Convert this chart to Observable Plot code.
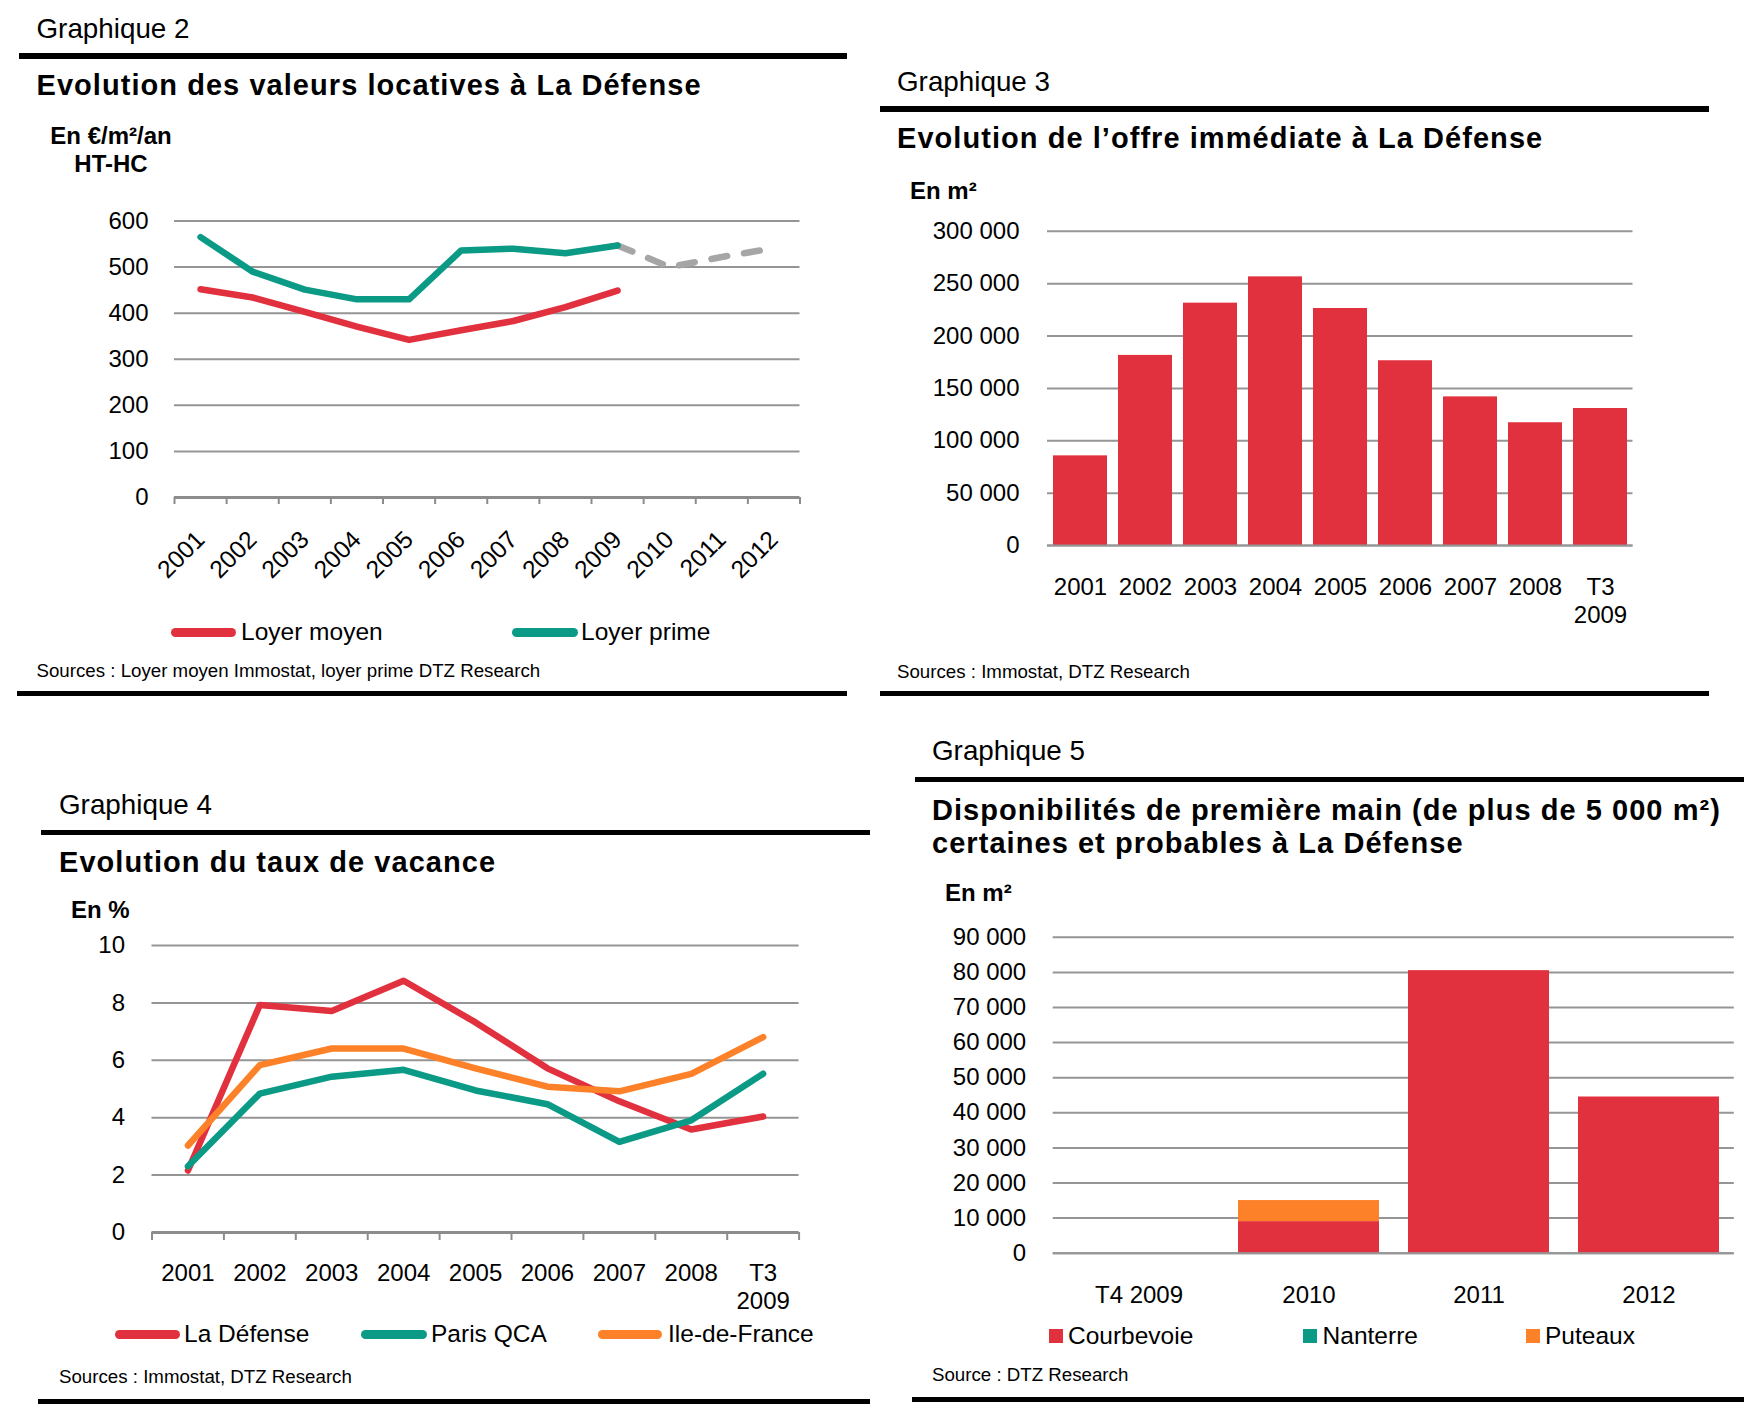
<!DOCTYPE html>
<html>
<head>
<meta charset="utf-8">
<script src="https://cdn.jsdelivr.net/npm/d3@7"></script>
<script src="https://cdn.jsdelivr.net/npm/@observablehq/plot@0.6"></script>
<style>
  html, body { margin: 0; padding: 0; background: #fff; }
  body { width: 1757px; height: 1421px; position: relative; overflow: hidden;
         font-family: "Liberation Sans", Arial, Helvetica, sans-serif; color: #000; }
  .abs { position: absolute; white-space: nowrap; line-height: 1; }
  .rule { position: absolute; background: #000; }
  .chart { position: absolute; }
  .chart svg { overflow: visible; }
  .sw { position: absolute; }
</style>
</head>
<body>
<script>
// ---------------- DATA ----------------
// Graphique 2 : valeurs locatives (€/m²/an HT-HC)
const years2 = [2001, 2002, 2003, 2004, 2005, 2006, 2007, 2008, 2009, 2010, 2011, 2012];
const years2Hist = [2001, 2002, 2003, 2004, 2005, 2006, 2007, 2008, 2009];
const loyerMoyen = [452, 434, 403, 371, 342, 363, 383, 413, 449];
const loyerPrime = [565, 490, 451, 430, 430, 536, 540, 530, 547];
const years2Prev = [2009, 2010, 2011, 2012];
const loyerPrimePrev = [547, 500, 522, 541];
const yTicks2 = [0, 100, 200, 300, 400, 500, 600];

// Graphique 3 : offre immédiate (m²)
const cat3 = ["2001", "2002", "2003", "2004", "2005", "2006", "2007", "2008", "T3\n2009"];
const offre3 = [85600, 181500, 231400, 256500, 226300, 176400, 141900, 117200, 130800];
const yTicks3 = [0, 50000, 100000, 150000, 200000, 250000, 300000];

// Graphique 4 : taux de vacance (%)
const cat4 = ["2001", "2002", "2003", "2004", "2005", "2006", "2007", "2008", "T3\n2009"];
const vacLaDefense = [2.16, 7.93, 7.72, 8.77, 7.32, 5.72, 4.57, 3.59, 4.04];
const vacParisQCA = [2.31, 4.84, 5.43, 5.67, 4.95, 4.47, 3.16, 3.91, 5.53];
const vacIDF = [3.03, 5.83, 6.41, 6.41, 5.72, 5.08, 4.92, 5.53, 6.81];
const yTicks4 = [0, 2, 4, 6, 8, 10];

// Graphique 5 : disponibilités de première main (m²)
const cat5 = ["T4 2009", "2010", "2011", "2012"];
const communes5 = ["Courbevoie", "Nanterre", "Puteaux"];
const courbevoie5 = [0, 9000, 80500, 44500];
const nanterre5 = [0, 0, 0, 0];
const puteaux5 = [0, 6000, 0, 0];
const yTicks5 = [0, 10000, 20000, 30000, 40000, 50000, 60000, 70000, 80000, 90000];

// ---------------- STYLE ----------------
const RED = "#E2313E", TEAL = "#0B9A85", ORANGE = "#FD8128", GREY_DASH = "#A6A6A6";
const GRID = "#959595", AXIS = "#8c8c8c";
const FONT = "'Liberation Sans', Arial, Helvetica, sans-serif";
const frFormat = d3.formatLocale({decimal: ",", thousands: " ", grouping: [3], currency: ["", "€"]}).format(",.0f");

// ---------------- HELPERS ----------------
function txt(s, x, base, size, opts = {}) {
  const d = document.createElement("div");
  d.className = "abs";
  d.textContent = s;
  d.style.fontSize = size + "px";
  d.style.top = (base - 0.8465 * size) + "px";
  d.style.left = x + "px";
  if (opts.bold) d.style.fontWeight = "bold";
  if (opts.center) d.style.transform = "translateX(-50%)";
  if (opts.ls != null) d.style.letterSpacing = opts.ls + "px";
  document.body.appendChild(d);
  return d;
}
function rule(x1, x2, yc, th) {
  const d = document.createElement("div");
  d.className = "rule";
  d.style.left = x1 + "px"; d.style.width = (x2 - x1) + "px";
  d.style.top = (yc - th / 2) + "px"; d.style.height = th + "px";
  document.body.appendChild(d);
}
function lineSwatch(x1, x2, yc, color) {
  const d = document.createElement("div");
  d.className = "sw";
  const th = 9;
  d.style.left = x1 + "px"; d.style.width = (x2 - x1) + "px";
  d.style.top = (yc - th / 2) + "px"; d.style.height = th + "px";
  d.style.borderRadius = (th / 2) + "px";
  d.style.background = color;
  document.body.appendChild(d);
}
function squareSwatch(x, yc, size, color) {
  const d = document.createElement("div");
  d.className = "sw";
  d.style.left = x + "px"; d.style.width = size + "px";
  d.style.top = (yc - size / 2) + "px"; d.style.height = size + "px";
  d.style.background = color;
  document.body.appendChild(d);
}
function place(svg, left, top) {
  const w = document.createElement("div");
  w.className = "chart";
  w.style.left = left + "px"; w.style.top = top + "px";
  w.appendChild(svg);
  document.body.appendChild(w);
}
const baseStyle = {fontFamily: FONT, fontSize: "24px", color: "#000", background: "transparent", overflow: "visible"};
const TITLE_LS = 1.05;

// ================= GRAPHIQUE 2 =================
txt("Graphique 2", 36.5, 39, 27.8);
rule(19, 847, 56, 5.3);
txt("Evolution des valeurs locatives à La Défense", 36.5, 96, 29, {bold: true, ls: TITLE_LS});
txt("En €/m²/an", 111, 144, 24, {bold: true, center: true});
txt("HT-HC", 111, 172, 24, {bold: true, center: true});

const bounds2 = d3.range(2000.5, 2013, 1);
const p2 = Plot.plot({
  width: 840, height: 400,
  marginLeft: 174, marginRight: 40.5, marginTop: 40.5, marginBottom: 83,
  x: {domain: [2000.5, 2012.5]},
  y: {domain: [0, 600]},
  style: baseStyle,
  marks: [
    Plot.gridY({ticks: yTicks2.slice(1), stroke: GRID, strokeOpacity: 1, strokeWidth: 2}),
    Plot.axisY({ticks: yTicks2, tickSize: 0, tickPadding: 26, fontSize: 24, label: null}),
    Plot.axisX({ticks: bounds2, tickSize: 7, tickFormat: () => "", stroke: AXIS, strokeWidth: 2, label: null}),
    Plot.ruleY([0], {stroke: AXIS, strokeWidth: 3}),
    Plot.axisX({ticks: years2, tickSize: 0, tickRotate: -45, tickPadding: 38, fontSize: 24.5, tickFormat: d => String(d), label: null}),
    Plot.line(loyerPrimePrev, {x: years2Prev, y: loyerPrimePrev, stroke: GREY_DASH, strokeWidth: 6.5,
      strokeDasharray: "16,17", strokeLinecap: "round", strokeLinejoin: "round"}),
    Plot.line(loyerMoyen, {x: years2Hist, y: loyerMoyen, stroke: RED, strokeWidth: 6.5, strokeLinejoin: "round", strokeLinecap: "round"}),
    Plot.line(loyerPrime, {x: years2Hist, y: loyerPrime, stroke: TEAL, strokeWidth: 6.5, strokeLinejoin: "round", strokeLinecap: "round"})
  ]
});
place(p2, 0, 180);

lineSwatch(171, 236, 632, RED);
txt("Loyer moyen", 241, 640.6, 24.5);
lineSwatch(512, 578, 632, TEAL);
txt("Loyer prime", 581, 640.6, 24.5);
txt("Sources : Loyer moyen Immostat, loyer prime DTZ Research", 36.5, 677.6, 18.7);
rule(17, 847, 693.5, 5.3);

// ================= GRAPHIQUE 3 =================
txt("Graphique 3", 897, 91.5, 27.8);
rule(880, 1709, 109, 5.3);
txt("Evolution de l’offre immédiate à La Défense", 897, 148.6, 29, {bold: true, ls: TITLE_LS});
txt("En m²", 910, 199.5, 24, {bold: true});

const p3 = Plot.plot({
  width: 860, height: 450,
  marginLeft: 177, marginRight: 97.5, marginTop: 40.8, marginBottom: 95,
  x: {domain: cat3, paddingInner: 0.17, paddingOuter: 0.085},
  y: {domain: [0, 300000]},
  style: baseStyle,
  marks: [
    Plot.gridY({ticks: yTicks3, stroke: GRID, strokeOpacity: 1, strokeWidth: 2}),
    Plot.axisY({ticks: yTicks3, tickSize: 0, tickPadding: 28, fontSize: 24, tickFormat: frFormat, label: null}),
    Plot.barY(offre3, {x: cat3, y: offre3, fill: RED}),
    Plot.ruleY([0], {stroke: GRID, strokeWidth: 2}),
    Plot.axisX({tickSize: 0, tickPadding: 29.5, fontSize: 24, lineHeight: 1.16, label: null})
  ]
});
place(p3, 870, 190);

txt("Sources : Immostat, DTZ Research", 897, 678.5, 18.7);
rule(880, 1709, 693.5, 5.3);

// ================= GRAPHIQUE 4 =================
txt("Graphique 4", 59, 815, 27.8);
rule(41, 870, 832.8, 5);
txt("Evolution du taux de vacance", 59, 872.4, 29, {bold: true, ls: TITLE_LS});
txt("En %", 71, 918.4, 24, {bold: true});

const idx4 = cat4.map((_, i) => i);
const bounds4 = d3.range(-0.5, cat4.length, 1);
const p4 = Plot.plot({
  width: 840, height: 420,
  marginLeft: 151.5, marginRight: 41.4, marginTop: 45, marginBottom: 88,
  x: {domain: [-0.5, cat4.length - 0.5]},
  y: {domain: [0, 10]},
  style: baseStyle,
  marks: [
    Plot.gridY({ticks: yTicks4.slice(1), stroke: GRID, strokeOpacity: 1, strokeWidth: 2}),
    Plot.axisY({ticks: yTicks4, tickSize: 0, tickPadding: 27, fontSize: 24, label: null}),
    Plot.axisX({ticks: bounds4, tickSize: 8, tickFormat: () => "", stroke: AXIS, strokeWidth: 2, label: null}),
    Plot.ruleY([0], {stroke: AXIS, strokeWidth: 3}),
    Plot.axisX({ticks: idx4, tickSize: 0, tickPadding: 28.5, fontSize: 24, lineHeight: 1.16, tickFormat: i => cat4[i], label: null}),
    Plot.line(vacLaDefense, {x: idx4, y: vacLaDefense, stroke: RED, strokeWidth: 6.5, strokeLinejoin: "round", strokeLinecap: "round"}),
    Plot.line(vacParisQCA, {x: idx4, y: vacParisQCA, stroke: TEAL, strokeWidth: 6.5, strokeLinejoin: "round", strokeLinecap: "round"}),
    Plot.line(vacIDF, {x: idx4, y: vacIDF, stroke: ORANGE, strokeWidth: 6.5, strokeLinejoin: "round", strokeLinecap: "round"})
  ]
});
place(p4, 0, 900);

lineSwatch(115, 180, 1334.5, RED);
txt("La Défense", 184, 1343, 24.5);
lineSwatch(361, 426.5, 1334.5, TEAL);
txt("Paris QCA", 431, 1343, 24.5);
lineSwatch(598, 662, 1334.5, ORANGE);
txt("Ile-de-France", 668, 1343, 24.5);
txt("Sources : Immostat, DTZ Research", 59, 1384, 18.7);
rule(38, 870, 1401.2, 5);

// ================= GRAPHIQUE 5 =================
txt("Graphique 5", 932, 761, 27.8);
rule(915, 1744, 779.5, 5);
txt("Disponibilités de première main (de plus de 5 000 m²)", 932, 820.5, 29, {bold: true, ls: TITLE_LS});
txt("certaines et probables à La Défense", 932, 854, 29, {bold: true, ls: TITLE_LS});
txt("En m²", 945, 901, 24, {bold: true});

const series5 = [courbevoie5, nanterre5, puteaux5];
const rows5 = [];
communes5.forEach((c, j) => cat5.forEach((k, i) => rows5.push({cat: k, commune: c, value: series5[j][i]})));
const p5 = Plot.plot({
  width: 887, height: 420,
  marginLeft: 182.7, marginRight: 23.2, marginTop: 36.8, marginBottom: 67.3,
  x: {domain: cat5, paddingInner: 0.17, paddingOuter: 0.085},
  y: {domain: [0, 90000]},
  color: {domain: communes5, range: [RED, TEAL, ORANGE]},
  style: baseStyle,
  marks: [
    Plot.gridY({ticks: yTicks5, stroke: GRID, strokeOpacity: 1, strokeWidth: 2}),
    Plot.axisY({ticks: yTicks5, tickSize: 0, tickPadding: 27, fontSize: 24, tickFormat: frFormat, label: null}),
    Plot.barY(rows5, {x: "cat", y: "value", fill: "commune"}),
    Plot.ruleY([0], {stroke: GRID, strokeWidth: 2}),
    Plot.axisX({tickSize: 0, tickPadding: 33, fontSize: 24, label: null})
  ]
});
place(p5, 870, 900);

squareSwatch(1049, 1336, 13.5, RED);
txt("Courbevoie", 1068, 1344.5, 24.5);
squareSwatch(1303, 1336, 13.5, TEAL);
txt("Nanterre", 1322.6, 1344.5, 24.5);
squareSwatch(1526, 1336, 13.5, ORANGE);
txt("Puteaux", 1545, 1344.5, 24.5);
txt("Source : DTZ Research", 932, 1382, 18.7);
rule(912, 1744, 1399.8, 5);
</script>
</body>
</html>
